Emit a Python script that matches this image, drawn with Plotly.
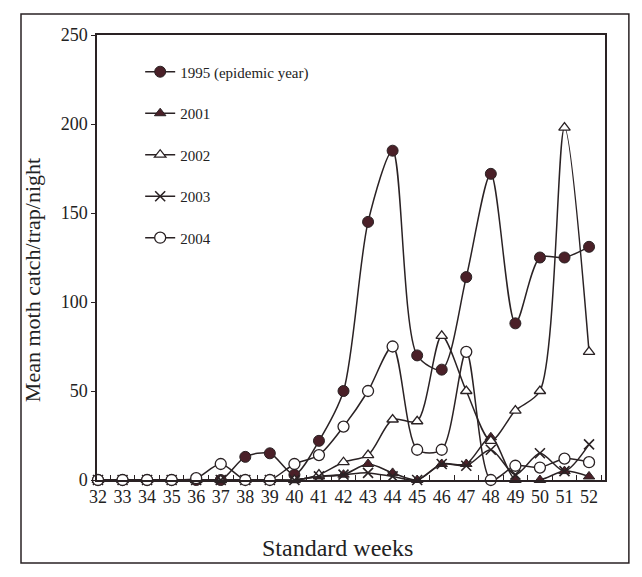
import plotly.graph_objects as go

weeks = list(range(32, 53))
week_labels = [str(w) for w in weeks]

y1995 = [0, 0, 0, 0, 0, 0, 13, 15, 3, 22, 50, 145, 185, 70, 62, 114, 172, 88, 125, 125, 131]
y2001 = [0, 0, 0, 0, 0, 0, 0, 0, 0, 2, 3, 9, 4, 0, 9, 9, 24, 0, 0, 5, 2]
y2002 = [0, 0, 0, 0, 0, 0, 0, 0, 0, 3, 10, 14, 34, 33, 81, 50, 22, 39, 50, 198, 72]
y2003 = [0, 0, 0, 0, 0, 0, 0, 0, 0, 2, 3, 4, 2, 0, 9, 8, 17, 3, 15, 5, 20]
y2004 = [0, 0, 0, 0, 1, 9, 0, 0, 9, 14, 30, 50, 75, 17, 17, 72, 0, 8, 7, 12, 10]

names = ["1995 (epidemic year)", "2001", "2002", "2003", "2004"]
x_title = "Standard weeks"
y_title = "Mean moth catch/trap/night"

INK = "#2a2224"
FILL = "#4a2028"
FONT = "Liberation Serif"

styles = [
    dict(symbol="circle", size=11, color=FILL, line=dict(color=INK, width=1)),
    dict(symbol="triangle-up", size=10, color=FILL, line=dict(color=INK, width=1)),
    dict(symbol="triangle-up", size=10, color="white", line=dict(color=INK, width=1.3)),
    dict(symbol="x-thin-open", size=10, color=INK, line=dict(color=INK, width=1.6)),
    dict(symbol="circle", size=11, color="white", line=dict(color=INK, width=1.3)),
]

series = [y1995, y2001, y2002, y2003, y2004]

fig = go.Figure()
for i, (nm, ys, st) in enumerate(zip(names, series, styles)):
    fig.add_trace(go.Scatter(
        x=weeks, y=ys, name=nm, mode="lines+markers",
        line=dict(color=INK, width=1.5, shape="spline", smoothing=0.8),
        marker=st, cliponaxis=False, legendgroup=f"g{i}",
    ))

# page body has an 8px margin, so the figure is 8px smaller on each axis
fig.update_layout(
    width=634, height=569,
    margin=dict(l=89, r=37, t=27, b=97, autoexpand=False),
    paper_bgcolor="white", plot_bgcolor="white",
    font=dict(family=FONT, color="#222"),
    showlegend=True,
    legend=dict(x=0.085, y=0.954, xanchor="left", yanchor="top",
                font=dict(family=FONT, size=15, color="#222"),
                bgcolor="rgba(0,0,0,0)", tracegroupgap=19,
                itemwidth=30),
    xaxis=dict(
        range=[31.96, 52.65], tickmode="array", tickvals=weeks, ticktext=week_labels,
        showline=True, linecolor=INK, linewidth=1.5, mirror=True,
        ticks="", showgrid=False, zeroline=False, automargin=False,
        minor=dict(tickmode="linear", tick0=32.5, dtick=1, ticks="inside",
                   ticklen=5, tickcolor=INK, showgrid=False),
        tickfont=dict(family=FONT, size=18, color="#222"),
    ),
    yaxis=dict(
        range=[0, 250], tickvals=[0, 50, 100, 150, 200, 250],
        showline=True, linecolor=INK, linewidth=1.5, mirror=True,
        ticks="outside", ticklen=4, tickcolor=INK, showgrid=False, zeroline=False,
        automargin=False,
        tickfont=dict(family=FONT, size=18, color="#222"),
    ),
    annotations=[
        dict(text=x_title, xref="paper", yref="paper", x=0.474, y=-0.153,
             xanchor="center", yanchor="middle", showarrow=False,
             font=dict(family=FONT, size=24, color="#222")),
        dict(text=y_title, xref="paper", yref="paper", x=-0.128, y=0.449,
             xanchor="center", yanchor="middle", showarrow=False, textangle=-90,
             font=dict(family=FONT, size=22, color="#222")),
    ],
)

fig.add_shape(type="rect", xref="paper", yref="paper",
              x0=-0.1496, x1=1.047, y0=-0.1865, y1=1.047,
              line=dict(color=INK, width=1.5), fillcolor="rgba(0,0,0,0)")

fig.write_html("out.html")
